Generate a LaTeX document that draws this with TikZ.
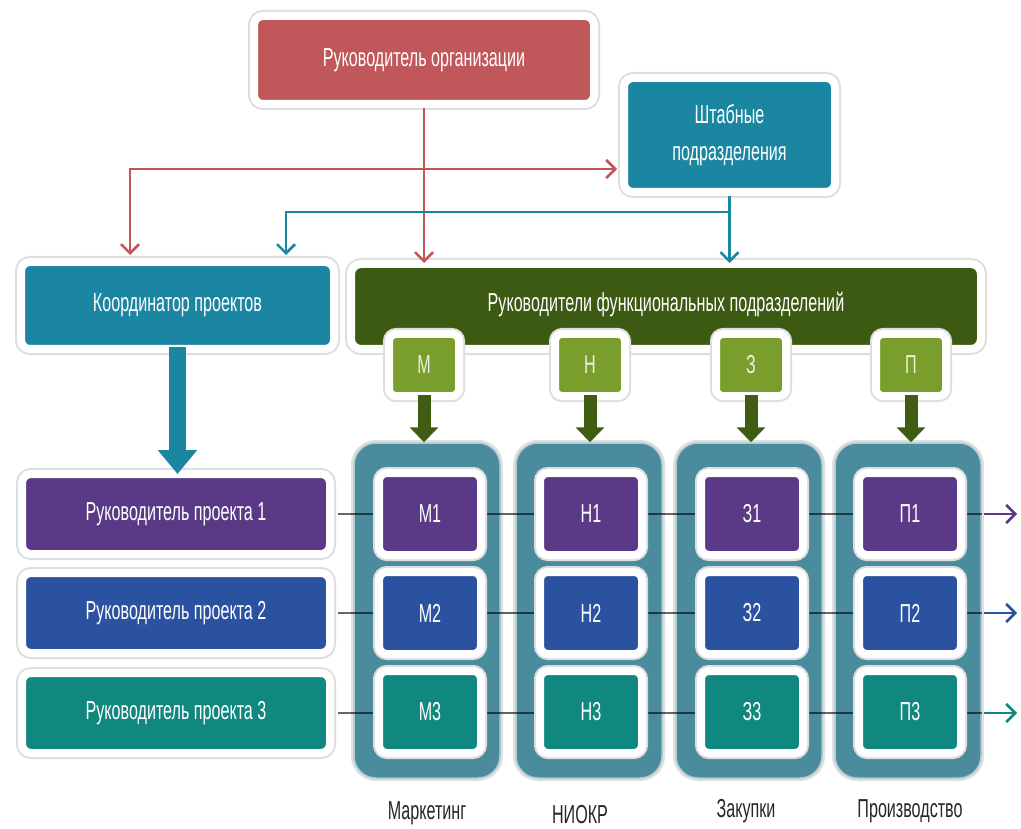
\documentclass[tikz,border=0pt]{standalone}
\usepackage{fontspec}
\newfontfamily\cf[FakeStretch=0.62]{Liberation Sans}
\newcommand\mylbl{\cf\fontsize{26}{28}\selectfont}
\usetikzlibrary{arrows.meta,calc}
\definecolor{cred}{HTML}{C0575B}
\definecolor{cteal}{HTML}{1B86A2}
\definecolor{cdgreen}{HTML}{3C5A12}
\definecolor{clgreen}{HTML}{7A9E2C}
\definecolor{ccol}{HTML}{4B8B9E}
\definecolor{cpurple}{HTML}{5A3A86}
\definecolor{cblue}{HTML}{2B52A0}
\definecolor{cgreenteal}{HTML}{10877F}
\definecolor{cgarrow}{HTML}{3E5C12}
\begin{document}
\begin{tikzpicture}[x=1pt,y=-1pt,
  box/.style={draw=white, line width=8pt, rounded corners=9pt, inner sep=0pt,
    text=white, font=\mylbl, align=center,
    preaction={draw=black!13, line width=12pt}},
  cell/.style={box, minimum width=102pt, minimum height=82pt, rounded corners=8pt},
  prow/.style={box, minimum width=308pt, minimum height=80pt},
  small/.style={box, fill=clgreen, minimum width=70pt, minimum height=62pt, rounded corners=7pt, text=white!85!clgreen},
  col/.style={draw=ccol!45!white, line width=1.5pt, fill=ccol, rounded corners=22pt,
    minimum width=146pt, minimum height=335pt, inner sep=0pt,
    preaction={draw=black!12, line width=6pt}},
  lab/.style={font=\mylbl, text=black!85, inner sep=0pt},
  thin/.style={line width=2.5pt, -{Straight Barb[length=9pt,width=18pt]}},
  rowline/.style={line width=2.5pt, draw=black, opacity=0.6},
  rowarrow/.style={line width=2.5pt, -{Straight Barb[length=9pt,width=18pt]}},
  garrow/.style={line width=13pt, draw=cgarrow, -{Triangle[width=28pt,length=15pt]}},
]
\useasboundingbox[fill=white] (0,0) rectangle (1021,829);

% top boxes
\node[box, fill=cred, minimum width=340pt, minimum height=88pt] (org) at (424,60) {Руководитель организации};
\node[box, fill=cteal, minimum width=211pt, minimum height=114pt] (staff) at (729.5,135) {Штабные\\[9pt]подразделения};
\node[box, fill=cteal, minimum width=313pt, minimum height=87pt] (coord) at (177.5,305.5) {Координатор проектов};
\node[box, fill=cdgreen, minimum width=630pt, minimum height=85pt, rounded corners=10pt] (func) at (666,306.5) {\raisebox{10pt}{Руководители функциональных подразделений}};

% connectors from top
\coordinate (rj) at (424,169);
\coordinate (ra) at (130,255);
\coordinate (tj) at (729.5,212);
\coordinate (ta) at (286,255);
\draw[thin, cred] (org.south) -- ([yshift=-3pt]org.south |- func.north);
\draw[thin, cred] (rj) -| (ra);
\draw[thin, cred] (rj) -- ([xshift=-3pt]staff.west |- rj);
\draw[thin, cteal] (staff.south) -- ([yshift=-3pt]staff.south |- func.north);
\draw[thin, cteal] (tj) -| (ta);

% project rows
\node[prow, fill=cpurple] (p1) at (176,514) {Руководитель проекта 1};
\node[prow, fill=cblue] (p2) at (176,613) {Руководитель проекта 2};
\node[prow, fill=cgreenteal] (p3) at (176,713) {Руководитель проекта 3};

\draw[line width=17pt, draw=cteal, -{Triangle[width=38pt,length=24pt]}] ([yshift=6pt]coord.south) -- ([yshift=-4pt]coord.south |- p1.north);

% columns
\node[col] (cM) at (427,610.5) {};
\node[col] (cN) at (589,610.5) {};
\node[col] (cZ) at (749,610.5) {};
\node[col] (cP) at (908,610.5) {};

% small function boxes
\node[small] (sM) at (424,365) {М};
\node[small] (sN) at (590,365) {Н};
\node[small] (sZ) at (751,365) {З};
\node[small] (sP) at (911,365) {П};

\draw[garrow] ([yshift=5pt]sM.south) -- (sM.south |- cM.north);
\draw[garrow] ([yshift=5pt]sN.south) -- (sN.south |- cN.north);
\draw[garrow] ([yshift=5pt]sZ.south) -- (sZ.south |- cZ.north);
\draw[garrow] ([yshift=5pt]sP.south) -- (sP.south |- cP.north);

% row lines
\coordinate (e1) at (1017,514);
\coordinate (e2) at (1017,613);
\coordinate (e3) at (1017,713);
\draw[rowline] ([xshift=4pt]p1.east) -- (cP.east |- p1.east);
\draw[rowline] ([xshift=4pt]p2.east) -- (cP.east |- p2.east);
\draw[rowline] ([xshift=4pt]p3.east) -- (cP.east |- p3.east);
\draw[rowarrow, cpurple] ([xshift=2pt]cP.east |- p1.east) -- (e1);
\draw[rowarrow, cblue] ([xshift=2pt]cP.east |- p2.east) -- (e2);
\draw[rowarrow, cgreenteal] ([xshift=2pt]cP.east |- p3.east) -- (e3);

% cells
\node[cell, fill=cpurple] (m1) at (430,514) {М1};
\node[cell, fill=cblue] (m2) at (430,613) {М2};
\node[cell, fill=cgreenteal] (m3) at (430,712) {М3};
\node[cell, fill=cpurple] (n1) at (591,514) {Н1};
\node[cell, fill=cblue] (n2) at (591,613) {Н2};
\node[cell, fill=cgreenteal] (n3) at (591,712) {Н3};
\node[cell, fill=cpurple] (z1) at (752,514) {З1};
\node[cell, fill=cblue] (z2) at (752,613) {З2};
\node[cell, fill=cgreenteal] (z3) at (752,712) {З3};
\node[cell, fill=cpurple] (q1) at (910,514) {П1};
\node[cell, fill=cblue] (q2) at (910,613) {П2};
\node[cell, fill=cgreenteal] (q3) at (910,712) {П3};

% labels
\node[lab] (lM) at (427,813) {Маркетинг};
\node[lab] (lN) at (580,815) {НИОКР};
\node[lab] (lZ) at (746,811) {Закупки};
\node[lab] (lP) at (910,811) {Производство};
\end{tikzpicture}
\end{document}
